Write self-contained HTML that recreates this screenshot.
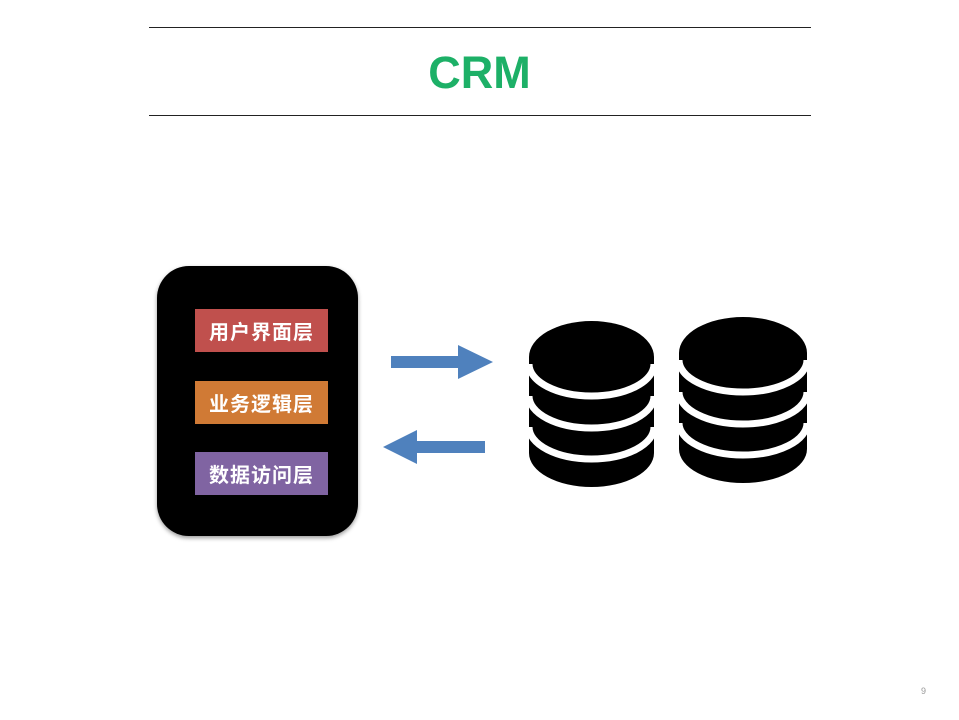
<!DOCTYPE html>
<html><head><meta charset="utf-8"><style>
html,body{margin:0;padding:0;background:#fff;}
body{width:959px;height:720px;position:relative;overflow:hidden;font-family:"Liberation Sans","Noto Sans CJK SC",sans-serif;}
.line{position:absolute;left:149px;width:662px;height:1px;background:#222;}
.title{position:absolute;left:0;width:959px;top:47px;text-align:center;font-weight:bold;font-size:45px;color:#1db067;line-height:52px;}
.box{position:absolute;left:157px;top:266px;width:201px;height:270px;border-radius:32px;background:#000;box-shadow:0 2px 4px rgba(0,0,0,.4);}
.lab{position:absolute;left:195px;width:133px;height:43px;color:#fff;font-size:20px;font-weight:bold;line-height:43px;text-align:center;font-family:"Noto Sans CJK SC",sans-serif;letter-spacing:1px;}
.pg{position:absolute;left:921px;top:686px;font-size:9px;color:#999;}
</style></head><body>
<div class="line" style="top:27px"></div>
<div class="title">CRM</div>
<div class="line" style="top:115px"></div>
<div class="box"></div>
<div class="lab" style="top:309px;background:#c0504d">用户界面层</div>
<div class="lab" style="top:381px;background:#d07a35">业务逻辑层</div>
<div class="lab" style="top:452px;background:#8064a2">数据访问层</div>
<svg width="959" height="720" style="position:absolute;left:0;top:0">
<polygon points="391,356 458,356 458,345 493,362 458,379 458,368 391,368" fill="#4f81bd"/>
<polygon points="485,441 417,441 417,430 383,447 417,464 417,453 485,453" fill="#4f81bd"/>
<g>
<path d="M529,357 L529,453 A62.5,34 0 0 0 654,453 L654,357 Z" fill="#000"/>
<ellipse cx="591.5" cy="357" rx="62.5" ry="36" fill="#000"/>
<path d="M529,364 A62.5,32 0 0 0 654,364 M529,396 A62.5,32 0 0 0 654,396 M529,427 A62.5,32 0 0 0 654,427" fill="none" stroke="#fff" stroke-width="7"/>
</g>
<g transform="translate(150,-4)">
<path d="M529,357 L529,453 A64,34 0 0 0 657,453 L657,357 Z" fill="#000"/>
<ellipse cx="593" cy="357" rx="64" ry="36" fill="#000"/>
<path d="M529,364 A64,32 0 0 0 657,364 M529,396 A64,32 0 0 0 657,396 M529,427 A64,32 0 0 0 657,427" fill="none" stroke="#fff" stroke-width="7"/>
</g>
</svg>
<div class="pg">9</div>
</body></html>
